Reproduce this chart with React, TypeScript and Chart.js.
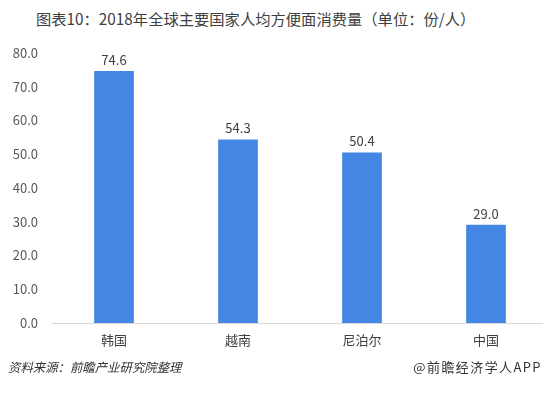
import React, { useEffect, useRef } from "react";
import { Chart, registerables } from "chart.js";

Chart.register(...registerables);

const categories = ["韩国", "越南", "尼泊尔", "中国"];
const values = [74.6, 54.3, 50.4, 29.0];
const yTicks = [0, 10, 20, 30, 40, 50, 60, 70, 80];

const FONT = '"Microsoft YaHei", "Noto Sans CJK SC", "Noto Sans", sans-serif';

const valueLabels = {
  id: "valueLabels",
  afterDatasetsDraw(chart: any) {
    const ctx = chart.ctx;
    const meta = chart.getDatasetMeta(0);
    ctx.save();
    ctx.font = `13px ${FONT}`;
    ctx.fillStyle = "#404040";
    ctx.textAlign = "center";
    ctx.textBaseline = "bottom";
    meta.data.forEach((bar: any, i: number) => {
      ctx.fillText(values[i].toFixed(1), bar.x, bar.y - 5);
    });
    ctx.restore();
  },
};

export default function App() {
  const ref = useRef<HTMLCanvasElement | null>(null);
  useEffect(() => {
    if (!ref.current) return;
    const chart = new Chart(ref.current, {
      type: "bar",
      data: {
        labels: categories,
        datasets: [
          {
            data: values,
            backgroundColor: "#4486E3",
            barThickness: 39,
          },
        ],
      },
      options: {
        animation: false,
        responsive: false,
        maintainAspectRatio: false,
        layout: { padding: { top: 53, right: 0, bottom: 0, left: 0 } },
        plugins: {
          legend: { display: false },
          title: { display: false },
          tooltip: { enabled: false },
        },
        scales: {
          x: {
            grid: { display: false, drawTicks: false },
            border: { display: true, color: "#D9D9D9", width: 1 },
            ticks: {
              padding: 9,
              font: { family: FONT, size: 13 },
              color: "#404040",
            },
            afterFit: (s: any) => {
              s.height = 70;
            },
          },
          y: {
            min: 0,
            max: 80,
            afterBuildTicks: (s: any) => {
              s.ticks = yTicks.map((v) => ({ value: v }));
            },
            grid: { display: false, drawTicks: false },
            border: { display: false },
            ticks: {
              padding: 14,
              font: { family: FONT, size: 13 },
              color: "#595959",
              callback: (v: any) => Number(v).toFixed(1),
            },
            afterFit: (s: any) => {
              s.width = 52;
            },
          },
        },
      },
      plugins: [valueLabels],
    });
    return () => chart.destroy();
  }, []);

  return (
    <div
      style={{
        position: "fixed",
        left: 0,
        top: 0,
        width: 543,
        height: 393,
        overflow: "hidden",
        background: "#fff",
        fontFamily: FONT,
      }}
    >
      <div
        style={{
          position: "absolute",
          left: 36,
          top: 8,
          fontSize: 15.3,
          lineHeight: "20px",
          color: "#404040",
          whiteSpace: "nowrap",
        }}
      >
        图表10：2018年全球主要国家人均方便面消费量（单位：份/人）
      </div>
      <canvas
        ref={ref}
        width={548}
        height={393}
        style={{ position: "absolute", left: 0, top: 0, width: 548, height: 393 }}
      />
      <div
        style={{
          position: "absolute",
          left: 8,
          top: 359,
          fontSize: 12.4,
          lineHeight: "16px",
          fontStyle: "italic",
          color: "#333",
          whiteSpace: "nowrap",
        }}
      >
        资料来源：前瞻产业研究院整理
      </div>
      <div
        style={{
          position: "absolute",
          right: 1,
          top: 359,
          fontSize: 13,
          letterSpacing: 1.4,
          lineHeight: "16px",
          color: "#333",
          whiteSpace: "nowrap",
        }}
      >
        @前瞻经济学人APP
      </div>
    </div>
  );
}
